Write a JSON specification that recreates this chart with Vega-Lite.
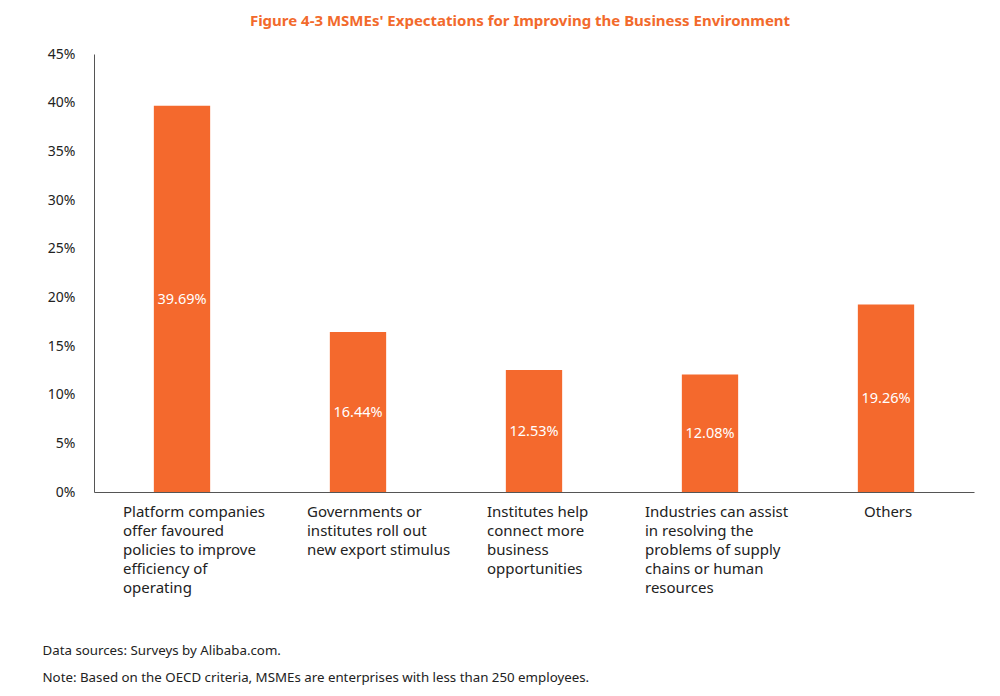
{
  "$schema": "https://vega.github.io/schema/vega-lite/v6.json",
  "width": 880,
  "height": 438,
  "autosize": {"type": "none"},
  "padding": {"left": 94, "top": 54, "right": 26, "bottom": 204},
  "background": "white",
  "config": {"view": {"stroke": null}, "font": "Noto Sans"},
  "title": {
    "text": "Figure 4-3 MSMEs' Expectations for Improving the Business Environment",
    "fontSize": 15,
    "fontWeight": "bold",
    "color": "#F26A2C",
    "font": "Noto Sans",
    "anchor": "middle",
    "dx": -14,
    "offset": 18
  },
  "data": {
    "values": [
      {"category": "Platform companies|offer favoured|policies to improve|efficiency of|operating", "value": 0.3969},
      {"category": "Governments or|institutes roll out|new export stimulus", "value": 0.1644},
      {"category": "Institutes help|connect more|business|opportunities", "value": 0.1253},
      {"category": "Industries can assist|in resolving the|problems of supply|chains or human|resources", "value": 0.1208},
      {"category": "Others", "value": 0.1926}
    ]
  },
  "encoding": {
    "x": {
      "field": "category",
      "type": "nominal",
      "sort": null,
      "scale": {"paddingInner": 0.68, "paddingOuter": 0.34},
      "axis": {
        "labelExpr": "split(datum.label, '|')",
        "labelAngle": 0,
        "labelAlign": "left",
        "labelBaseline": "top",
        "labelFontSize": 15,
        "labelLineHeight": 19,
        "labelColor": "#222222",
        "labelPadding": 12,
        "labelLimit": 300,
        "labelOffset": {
          "condition": [
            {"test": "indexof(datum.value, 'Platform') === 0", "value": -59},
            {"test": "indexof(datum.value, 'Governments') === 0", "value": -51},
            {"test": "indexof(datum.value, 'Institutes') === 0", "value": -47},
            {"test": "indexof(datum.value, 'Industries') === 0", "value": -65}
          ],
          "value": -22
        },
        "ticks": false,
        "domainColor": "#555555",
        "domainWidth": 1,
        "title": ["Data sources: Surveys by Alibaba.com.", "Note: Based on the OECD criteria, MSMEs are enterprises with less than 250 employees."],
        "titleFontSize": 13.3,
        "titleFontWeight": "normal",
        "titleColor": "#222222",
        "titleAlign": "left",
        "titleAnchor": "start",
        "titleBaseline": "top",
        "titleLineHeight": 27,
        "titleX": -52,
        "titleY": 151
      }
    }
  },
  "layer": [
    {
      "mark": {"type": "bar", "color": "#F4692D"},
      "encoding": {
        "y": {
          "field": "value",
          "type": "quantitative",
          "scale": {"domain": [0, 0.45], "nice": false},
          "axis": {
            "values": [0, 0.05, 0.1, 0.15, 0.2, 0.25, 0.3, 0.35, 0.4, 0.45],
            "format": ".0%",
            "grid": false,
            "ticks": false,
            "labelFontSize": 14,
            "labelColor": "#222222",
            "labelPadding": 19,
            "domainColor": "#555555",
            "title": null
          }
        }
      }
    },
    {
      "transform": [{"calculate": "datum.value / 2", "as": "mid"}],
      "mark": {"type": "text", "color": "white", "fontSize": 14.5, "align": "center", "baseline": "middle", "dy": 1},
      "encoding": {
        "y": {"field": "mid", "type": "quantitative"},
        "text": {"field": "value", "type": "quantitative", "format": ".2%"}
      }
    }
  ]
}
